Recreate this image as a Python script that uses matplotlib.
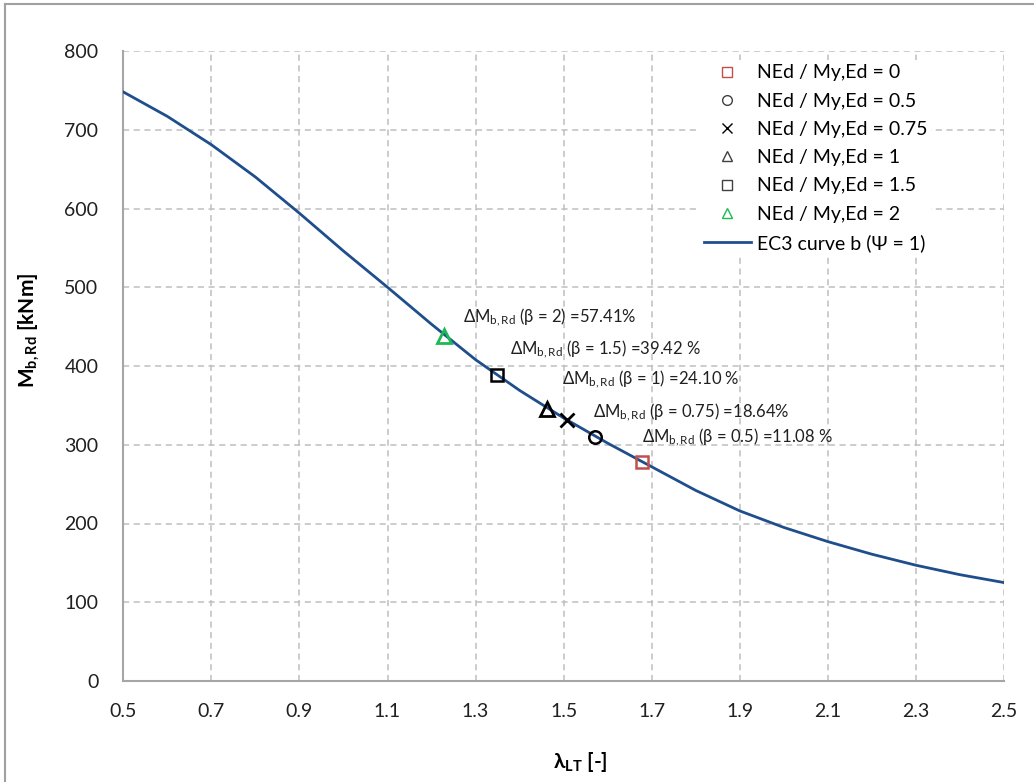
#!/usr/bin/env python3
import matplotlib
matplotlib.use("Agg")
import matplotlib.pyplot as plt
from matplotlib.lines import Line2D

# EC3 curve b
lam = [0.5, 0.6, 0.7, 0.8, 0.9, 1.0, 1.1, 1.2, 1.3, 1.4, 1.5,
       1.6, 1.7, 1.8, 1.9, 2.0, 2.1, 2.2, 2.3, 2.4, 2.5]
m_brd = [748, 717, 681, 640, 594, 546, 500, 453, 408, 369, 334,
         302, 272, 242, 216, 195, 177, 161, 147, 135, 125]

# single points for each NEd / My,Ed ratio
ratios = ['0', '0.5', '0.75', '1', '1.5', '2']
pt_lam = [1.679, 1.572, 1.507, 1.462, 1.349, 1.229]
pt_m = [277.7, 309.5, 331.4, 345.0, 388.6, 438.0]
betas = ['0.5', '0.75', '1', '1.5', '2']
deltas = ['11.08 %', '18.64%', '24.10 %', '39.42 %', '57.41%']

x_ticks = [0.5, 0.7, 0.9, 1.1, 1.3, 1.5, 1.7, 1.9, 2.1, 2.3, 2.5]
y_ticks = [0, 100, 200, 300, 400, 500, 600, 700, 800]

plt.rcParams['font.family'] = ['Lato', 'DejaVu Sans']
plt.rcParams['mathtext.fontset'] = 'custom'
plt.rcParams['mathtext.rm'] = 'Lato'
plt.rcParams['mathtext.bf'] = 'Lato:bold'
plt.rcParams['mathtext.it'] = 'Lato:italic'

fig = plt.figure(figsize=(10.34, 7.82), dpi=100)
ax = fig.add_axes([123.3 / 1034, (782 - 681) / 782, 880.7 / 1034, 630 / 782])

# outer chart border (only left/top visible in the reference)
fig.add_artist(Line2D([5 / 1034, 5 / 1034], [0, 1 - 4 / 782], transform=fig.transFigure,
                      color='#A0A0A0', lw=1.5))
fig.add_artist(Line2D([5 / 1034, 1], [1 - 4 / 782, 1 - 4 / 782], transform=fig.transFigure,
                      color='#A0A0A0', lw=1.5))

line_col = '#1F4E8C'
ax.plot(lam, m_brd, color=line_col, lw=2, zorder=3, label='EC3 curve b (Ψ = 1)')

styles = [
    dict(marker='s', mfc='none', mec='#C0504D', ms=9, mew=1.8),
    dict(marker='o', mfc='none', mec='black', ms=9, mew=1.8),
    dict(marker='x', color='black', ms=10, mew=2.0),
    dict(marker='^', mfc='none', mec='black', ms=10, mew=2.0),
    dict(marker='s', mfc='none', mec='black', ms=9, mew=1.8),
    dict(marker='^', mfc='none', mec='#1DB954', ms=10, mew=2.0),
]
handles = []
for r, x, y, st in zip(ratios, pt_lam, pt_m, styles):
    ax.plot([x], [y], ls='none', zorder=4, **st)
    # legend markers are drawn thinner / smaller in the reference
    st_leg = dict(st)
    st_leg['ms'] = 7
    st_leg['mew'] = 1.0
    if st_leg.get('mec') == 'black':
        st_leg['mec'] = '#404040'
    handles.append(Line2D([], [], ls='none', label=f'NEd / My,Ed = {r}', **st_leg))
handles.append(Line2D([], [], color=line_col, lw=2, label='EC3 curve b (Ψ = 1)'))

# annotation texts (positions in data units)
ann_pos = [(1.677, 310), (1.566, 342), (1.497, 383), (1.378, 422), (1.271, 462)]
for b, d, (tx, ty) in zip(betas, deltas, ann_pos):
    ax.text(tx, ty, 'ΔM$_{\\mathrm{b,Rd}}$ (β = ' + b + ') =' + d,
            fontsize=12, va='center', ha='left', color='#202020', zorder=5)

ax.set_xlim(0.5, 2.5)
ax.set_ylim(0, 800)
ax.set_xticks(x_ticks)
ax.set_xticklabels([f'{v:.1f}' for v in x_ticks])
ax.set_yticks(y_ticks)
ax.tick_params(axis='both', length=0, labelsize=14, colors='#202020')
ax.tick_params(axis='x', pad=16)
ax.tick_params(axis='y', pad=18)
ax.grid(True, color='#BFBFBF', ls=(0, (4, 3)), lw=1.1)
ax.set_axisbelow(True)
for s in ['top', 'right']:
    ax.spines[s].set_visible(False)
for s in ['left', 'bottom']:
    ax.spines[s].set_color('#A6A6A6')
    ax.spines[s].set_linewidth(1.5)

ax.set_xlabel('λ$_{\\mathbf{LT}}$ [-]', fontsize=15, fontweight='bold')
ax.xaxis.set_label_coords(0.519, -0.11)
ax.set_ylabel('$\\mathbf{M_{b,Rd}}$ [kNm]', fontsize=15, fontweight='bold')
ax.yaxis.set_label_coords(-0.093, 0.556)

leg = ax.legend(handles=handles, loc='upper left', bbox_to_anchor=(0.655, 0.985),
                fontsize=14, frameon=True, framealpha=1, edgecolor='none',
                handlelength=2.4, handletextpad=0.3, labelspacing=0.58,
                borderpad=0.2, borderaxespad=0)
leg.get_frame().set_facecolor('white')
leg.set_zorder(6)

fig.savefig('out.png', dpi=100)
